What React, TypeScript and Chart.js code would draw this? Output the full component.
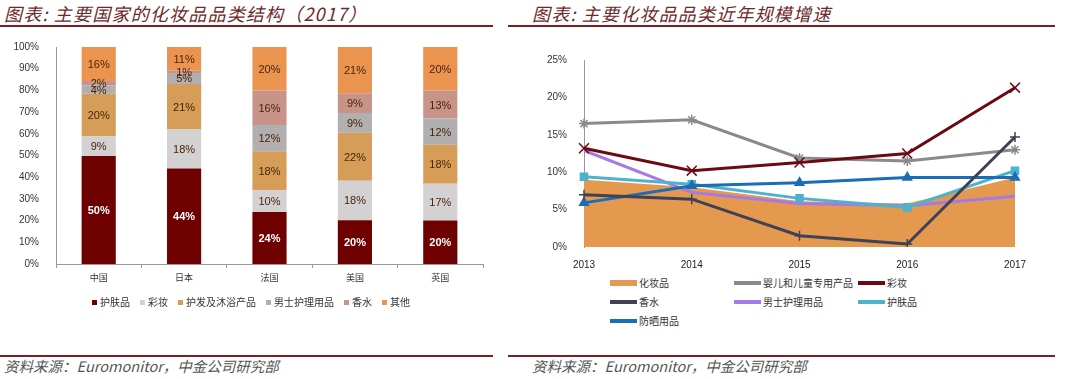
import React, { useEffect, useRef } from "react";
import { Chart, registerables } from "chart.js";
Chart.register(...registerables);

// ---------- Left chart data ----------
const countries = ["中国", "日本", "法国", "美国", "英国"];
const skinCare = [49.8, 44, 24, 20.2, 20];
const makeup = [9.1, 18, 10, 18.2, 17];
const hairBath = [19.5, 21, 18, 22.1, 18];
const mensCare = [4.0, 5, 12, 9.1, 12];
const fragrance = [1.9, 1, 16, 9.1, 13];
const others = [15.7, 11, 20, 21.3, 20];
const leftSeriesNames = ["护肤品", "彩妆", "护发及沐浴产品", "男士护理用品", "香水", "其他"];
const leftColors = ["#6E0000", "#D3D1D1", "#D69D58", "#B1AFAF", "#C8948A", "#EB9450"];
const leftYTicks = [0, 10, 20, 30, 40, 50, 60, 70, 80, 90, 100];

// ---------- Right chart data ----------
const years = ["2013", "2014", "2015", "2016", "2017"];
const cosmetics = [9.0, 8.0, 6.1, 5.8, 9.3];
const babyKids = [16.5, 17.0, 11.9, 11.5, 13.0];
const colorCosmetics = [13.2, 10.2, 11.3, 12.5, 21.3];
const perfume = [7.0, 6.4, 1.5, 0.4, 14.7];
const mensGrooming = [12.9, 7.3, 5.8, 5.5, 6.8];
const skinCareGrowth = [9.4, 8.4, 6.5, 5.3, 10.2];
const sunCare = [5.9, 8.2, 8.6, 9.3, 9.3];
const rightYTicks = [0, 5, 10, 15, 20, 25];

const CJK = '"Noto Sans CJK SC", "Noto Sans", sans-serif';
const LAT = '"Liberation Sans", Arial, sans-serif';

const barLabelPlugin = {
  id: "barLabels",
  afterDatasetsDraw(chart: any) {
    const ctx = chart.ctx;
    ctx.save();
    ctx.textAlign = "center";
    ctx.textBaseline = "middle";
    chart.data.datasets.forEach((ds: any, di: number) => {
      const meta = chart.getDatasetMeta(di);
      meta.data.forEach((bar: any, i: number) => {
        const v = ds.data[i] as number;
        const p = bar.getProps(["x", "y", "base"], true);
        if (di === 0) {
          ctx.fillStyle = "#FFFFFF";
          ctx.font = "bold 11px " + LAT;
        } else {
          ctx.fillStyle = "#4A2508";
          ctx.font = "11px " + LAT;
        }
        ctx.fillText(Math.round(v) + "%", p.x, (p.y + p.base) / 2 + 1);
      });
    });
    ctx.restore();
  },
};

function LeftChart() {
  const ref = useRef<HTMLCanvasElement>(null);
  useEffect(() => {
    const series = [skinCare, makeup, hairBath, mensCare, fragrance, others];
    const chart = new Chart(ref.current!, {
      type: "bar",
      data: {
        labels: countries,
        datasets: series.map((d, i) => ({
          label: leftSeriesNames[i],
          data: d,
          backgroundColor: leftColors[i],
          borderWidth: 0,
          barPercentage: 0.8,
          categoryPercentage: 0.5,
        })),
      },
      options: {
        responsive: false,
        animation: false,
        layout: { padding: { top: 6, right: 12, left: 0, bottom: 0 } },
        plugins: { legend: { display: false }, tooltip: { enabled: false } },
        scales: {
          x: {
            stacked: true,
            grid: { display: true, drawOnChartArea: false, drawTicks: true, tickLength: 4, color: "#999", offset: true },
            border: { display: true, color: "#999" },
            ticks: { font: { family: CJK, size: 9 }, color: "#333", padding: 4 },
            afterFit: (s: any) => { s.height = 32; },
          },
          y: {
            stacked: true,
            min: 0,
            max: 100,
            afterBuildTicks: (s: any) => { s.ticks = leftYTicks.map((v) => ({ value: v })); },
            grid: { display: false },
            border: { display: true, color: "#999" },
            ticks: { font: { family: LAT, size: 10 }, color: "#333", padding: 9, callback: (v: any) => v + "%" },
            afterFit: (s: any) => { s.width = 56; },
          },
        },
      },
      plugins: [barLabelPlugin],
    });
    return () => chart.destroy();
  }, []);
  return <canvas ref={ref} width={495} height={264} style={{ position: "absolute", left: 0, top: 32, width: 495, height: 264 }} />;
}

const rightSeries = [
  { label: "化妆品", data: cosmetics, color: "#E4994F", fill: true, point: false as any, order: 10 },
  { label: "婴儿和儿童专用产品", data: babyKids, color: "#8A8A8A", point: "star", order: 5 },
  { label: "彩妆", data: colorCosmetics, color: "#6B0A12", point: "crossRot", order: 1 },
  { label: "香水", data: perfume, color: "#3D4256", point: "cross", order: 2 },
  { label: "男士护理用品", data: mensGrooming, color: "#A67AE6", point: false as any, order: 4 },
  { label: "护肤品", data: skinCareGrowth, color: "#4DB2CC", point: "rect", order: 3 },
  { label: "防晒用品", data: sunCare, color: "#1B6DB5", point: "triangle", order: 2 },
];

function RightChart() {
  const ref = useRef<HTMLCanvasElement>(null);
  useEffect(() => {
    const chart = new Chart(ref.current!, {
      type: "line",
      data: {
        labels: years,
        datasets: rightSeries.map((s) => ({
          label: s.label,
          data: s.data,
          borderColor: s.fill ? "rgba(0,0,0,0)" : s.color,
          backgroundColor: s.color,
          borderWidth: s.fill ? 0 : 3,
          fill: s.fill ? "origin" : false,
          tension: 0,
          order: s.order,
          pointStyle: s.point || false,
          pointRadius: s.point ? (s.point === "crossRot" ? 7 : 5) : 0,
          pointBorderColor: s.color,
          pointBackgroundColor: s.color,
          pointBorderWidth: 1.5,
        })),
      },
      options: {
        responsive: false,
        animation: false,
        layout: { padding: { top: 14, right: 65, left: 0, bottom: 0 } },
        plugins: { legend: { display: false }, tooltip: { enabled: false } },
        scales: {
          x: {
            offset: false,
            grid: { display: false },
            border: { display: false },
            ticks: { font: { family: LAT, size: 10 }, color: "#222", padding: 4, maxRotation: 0 },
            afterFit: (s: any) => { s.height = 28; },
          },
          y: {
            min: 0,
            max: 25,
            afterBuildTicks: (s: any) => { s.ticks = rightYTicks.map((v) => ({ value: v })); },
            grid: { display: false },
            border: { display: true, color: "#999" },
            ticks: { font: { family: LAT, size: 10 }, color: "#333", padding: 9, callback: (v: any) => v + "%" },
            afterFit: (s: any) => { s.width = 54; },
          },
        },
      },
    });
    return () => chart.destroy();
  }, []);
  return <canvas ref={ref} width={550} height={230} style={{ position: "absolute", left: 530, top: 45, width: 550, height: 230 }} />;
}

const titleStyle: React.CSSProperties = {
  position: "absolute",
  top: 1,
  fontFamily: CJK,
  fontStyle: "italic",
  fontSize: 18,
  letterSpacing: 1.2,
  color: "#6E2A2A",
  whiteSpace: "nowrap",
  lineHeight: "24px",
};
const footStyle: React.CSSProperties = {
  position: "absolute",
  top: 356,
  fontFamily: CJK,
  fontStyle: "italic",
  fontSize: 14.5,
  color: "#555",
  whiteSpace: "nowrap",
  lineHeight: "20px",
};
const lineStyle = (left: number, width: number, top: number): React.CSSProperties => ({
  position: "absolute",
  left,
  width,
  top,
  height: 2,
  background: "#7A1F24",
});

export default function App() {
  const legendPos = [
    [610, 283], [734, 283], [858, 283],
    [610, 302], [734, 302], [858, 302],
    [610, 321],
  ];
  return (
    <div style={{ position: "fixed", left: 0, top: 0, width: 1080, height: 379, background: "#fff", overflow: "hidden" }}>
      <div style={{ ...titleStyle, left: 4 }}>图表: 主要国家的化妆品品类结构（2017）</div>
      <div style={{ ...titleStyle, left: 532 }}>图表: 主要化妆品品类近年规模增速</div>
      <div style={lineStyle(0, 493, 25)} />
      <div style={lineStyle(508, 547, 25)} />

      <LeftChart />
      <RightChart />

      <div style={{ position: "absolute", left: 92, top: 294, display: "flex", gap: 10, fontFamily: CJK, fontSize: 10, color: "#333", lineHeight: "16px", whiteSpace: "nowrap" }}>
        {leftSeriesNames.map((n, i) => (
          <div key={n} style={{ display: "flex", alignItems: "center" }}>
            <span style={{ display: "inline-block", width: 5, height: 5, background: leftColors[i], marginRight: 3 }} />
            {n}
          </div>
        ))}
      </div>

      {rightSeries.map((s, i) => (
        <div key={s.label} style={{ position: "absolute", left: legendPos[i][0], top: legendPos[i][1] - 8, display: "flex", alignItems: "center", fontFamily: CJK, fontSize: 10, color: "#333", lineHeight: "16px", whiteSpace: "nowrap" }}>
          <span style={{ display: "inline-block", width: 27, height: s.fill ? 6 : 4, background: s.color, marginRight: 2 }} />
          {s.label}
        </div>
      ))}

      <div style={lineStyle(0, 493, 355)} />
      <div style={lineStyle(508, 547, 355)} />
      <div style={{ ...footStyle, left: 4 }}>资料来源：Euromonitor，中金公司研究部</div>
      <div style={{ ...footStyle, left: 532 }}>资料来源：Euromonitor，中金公司研究部</div>
    </div>
  );
}
